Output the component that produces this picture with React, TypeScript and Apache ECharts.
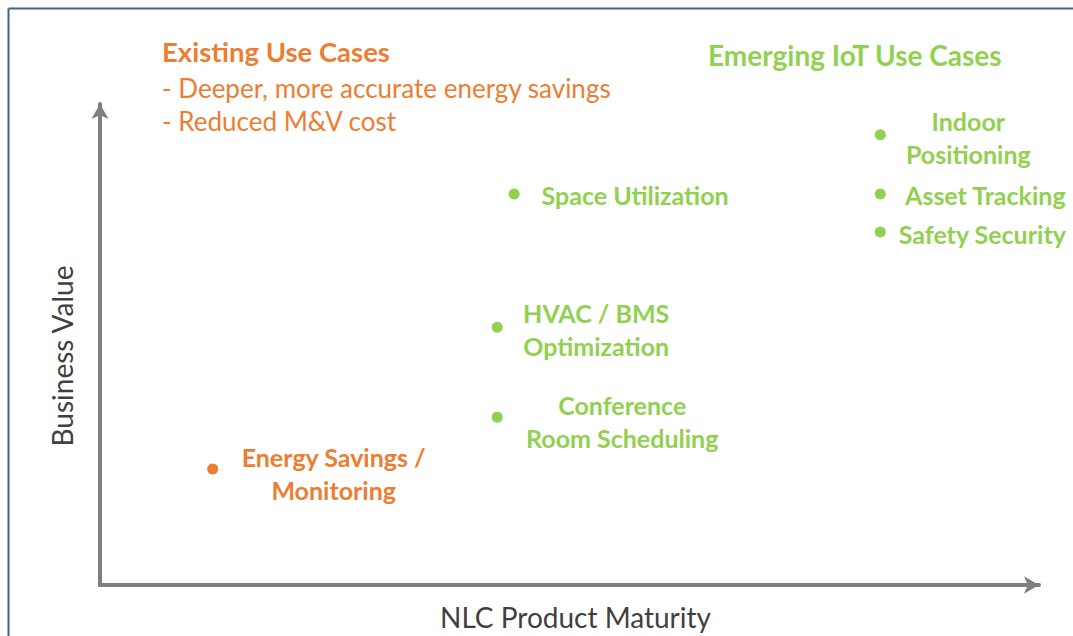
import React, { useEffect, useRef } from "react";
import * as echarts from "echarts";

const useCaseNames: string[] = [
  "Energy Savings /\nMonitoring",
  "Space Utilization",
  "HVAC / BMS\nOptimization",
  "Conference\nRoom Scheduling",
  "Indoor\nPositioning",
  "Asset Tracking",
  "Safety Security",
];
const productMaturity: number[] = [12, 44.1, 42.3, 42.3, 83.1, 83.1, 83.1];
const businessValue: number[] = [24.1, 81.3, 53.6, 34.9, 93.6, 81.3, 73.4];
const useCaseGroup: string[] = ["existing", "emerging", "emerging", "emerging", "emerging", "emerging", "emerging"];

const xAxisTitle = "NLC Product Maturity";
const yAxisTitle = "Business Value";
const existingTitle = "Existing Use Cases";
const existingNotes: string[] = ["- Deeper, more accurate energy savings", "- Reduced M&V cost"];
const emergingTitle = "Emerging IoT Use Cases";

const ORANGE = "#ED7D31";
const GREEN = "#92D050";
const AXIS = "#7F7F7F";
const FONT = "Lato, 'Open Sans', sans-serif";

// label placement relative to each point (styling only)
const labelOffsets: [number, number][] = [
  [121, 4],
  [121, 1],
  [99, 2],
  [125, 4],
  [88, 3],
  [105, 1],
  [102, 2],
];

export default function App() {
  const ref = useRef<HTMLDivElement>(null);
  useEffect(() => {
    if (!ref.current) return;
    const chart = echarts.init(ref.current, undefined, { renderer: "svg" });
    const data = useCaseNames.map((name, i) => {
      const color = useCaseGroup[i] === "existing" ? ORANGE : GREEN;
      return {
        name,
        value: [productMaturity[i], businessValue[i]],
        itemStyle: { color, opacity: 1 },
        label: {
          show: true,
          formatter: name,
          position: "inside",
          offset: labelOffsets[i],
          align: "center",
          verticalAlign: "middle",
          color,
          opacity: 1,
          fontFamily: FONT,
          fontWeight: "bold",
          fontSize: 25,
          lineHeight: 33,
        },
      };
    });
    chart.setOption({
      animation: false,
      backgroundColor: "#ffffff",
      grid: { left: 100, right: 34, top: 104, bottom: 51, outerBoundsMode: "none", containLabel: false },
      xAxis: {
        type: "value",
        min: 0,
        max: 100,
        name: xAxisTitle,
        nameLocation: "middle",
        nameGap: 18,
        nameTextStyle: { color: "#404040", fontFamily: FONT, fontSize: 28, padding: [0, 0, 0, 12] },
        axisLine: { show: true, symbol: ["none", "arrow"], symbolSize: [13, 15], lineStyle: { color: AXIS, width: 4 } },
        axisTick: { show: false },
        axisLabel: { show: false },
        splitLine: { show: false },
      },
      yAxis: {
        type: "value",
        min: 0,
        max: 100,
        name: yAxisTitle,
        nameLocation: "middle",
        nameGap: 24,
        nameTextStyle: { color: "#404040", fontFamily: FONT, fontSize: 28, padding: [0, 23, 0, 0] },
        axisLine: { show: true, symbol: ["none", "arrow"], symbolSize: [13, 15], lineStyle: { color: AXIS, width: 4 } },
        axisTick: { show: false },
        axisLabel: { show: false },
        splitLine: { show: false },
      },
      graphic: [
        { type: "line", shape: { x1: 8.5, y1: 8.5, x2: 1073, y2: 8.5 }, style: { stroke: "#3E6496", lineWidth: 2 } },
        { type: "line", shape: { x1: 8.5, y1: 8.5, x2: 8.5, y2: 636 }, style: { stroke: "#3E6496", lineWidth: 2 } },
        {
          type: "text",
          x: 162,
          y: 51,
          style: { text: existingTitle, fill: ORANGE, font: `bold 27.5px ${FONT}`, textVerticalAlign: "middle" },
        },
        ...existingNotes.map((t, i) => ({
          type: "text",
          x: 162,
          y: 88 + i * 33,
          style: { text: t, fill: ORANGE, font: `26px ${FONT}`, textVerticalAlign: "middle" },
        })),
        {
          type: "text",
          x: 708,
          y: 55,
          style: { text: emergingTitle, fill: GREEN, font: `bold 28px ${FONT}`, textVerticalAlign: "middle" },
        },
      ],
      series: [
        {
          type: "scatter",
          symbol: "circle",
          symbolSize: 11,
          data,
        },
      ],
    });
    return () => chart.dispose();
  }, []);
  return (
    <div
      ref={ref}
      style={{ position: "fixed", left: 0, top: 0, width: 1073, height: 636, background: "#fff" }}
    />
  );
}
